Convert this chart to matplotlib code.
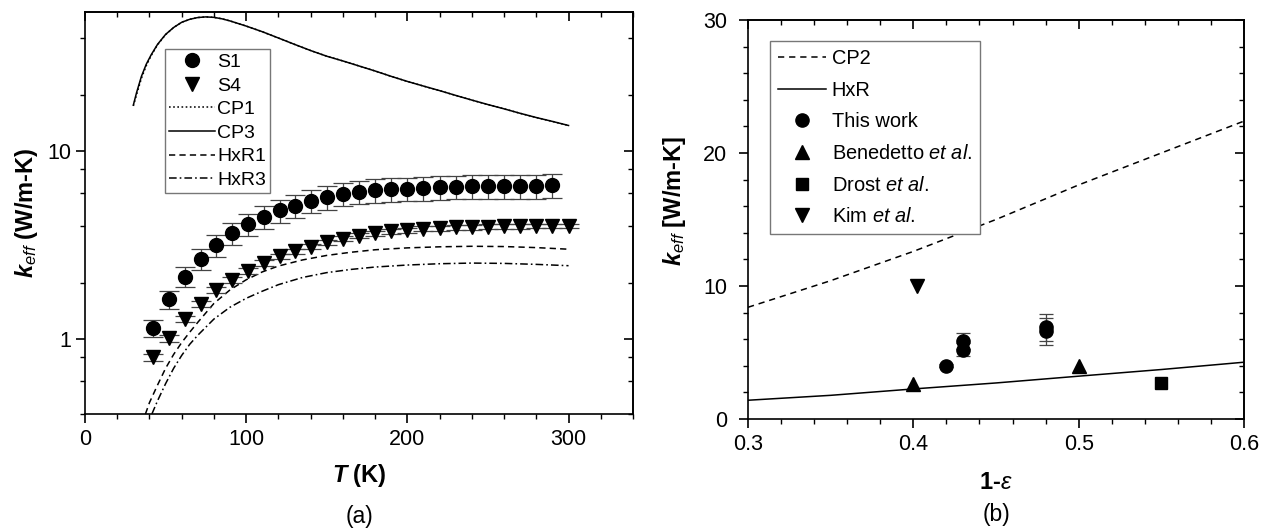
import matplotlib
matplotlib.use('Agg')
import matplotlib.pyplot as plt
from matplotlib.ticker import FixedLocator, MultipleLocator, NullFormatter, FuncFormatter, LogLocator
from matplotlib.lines import Line2D

plt.rcParams['font.family'] = ['Liberation Sans', 'DejaVu Sans']
plt.rcParams['mathtext.fontset'] = 'custom'
plt.rcParams['mathtext.rm'] = 'Liberation Sans'
plt.rcParams['mathtext.it'] = 'Liberation Sans:italic'
plt.rcParams['mathtext.bf'] = 'Liberation Sans:bold'
try:
    plt.rcParams['mathtext.bfit'] = 'Liberation Sans:bold:italic'
except KeyError:
    pass
plt.rcParams['lines.scale_dashes'] = False

# ---------------- Panel (a) data ----------------
S1_T = [42, 52, 62, 72, 81, 91, 101, 111, 121, 130, 140, 150, 160, 170, 180, 190,
        200, 210, 220, 230, 240, 250, 260, 270, 280, 290]
S1_k = [1.15, 1.63, 2.15, 2.68, 3.16, 3.66, 4.09, 4.47, 4.85, 5.12, 5.45, 5.69, 5.92,
        6.07, 6.20, 6.28, 6.33, 6.38, 6.43, 6.48, 6.50, 6.52, 6.52, 6.55, 6.55, 6.57]
S1_err = [0.12, 0.18, 0.26, 0.34, 0.42, 0.50, 0.56, 0.62, 0.68, 0.72, 0.77, 0.80, 0.84,
          0.86, 0.88, 0.90, 0.91, 0.92, 0.93, 0.94, 0.94, 0.95, 0.95, 0.95, 0.95, 0.96]

S4_T = [42, 52, 62, 72, 81, 91, 101, 111, 121, 130, 140, 150, 160, 170, 180, 190,
        200, 210, 220, 230, 240, 250, 260, 270, 280, 290, 300]
S4_k = [0.80, 1.01, 1.28, 1.54, 1.82, 2.06, 2.30, 2.55, 2.76, 2.93, 3.10, 3.28, 3.42,
        3.55, 3.65, 3.74, 3.80, 3.86, 3.90, 3.93, 3.95, 3.97, 3.98, 3.99, 4.00, 4.00, 4.00]
S4_err = [0.03, 0.04, 0.05, 0.06, 0.07, 0.08, 0.08, 0.09, 0.09, 0.10, 0.10, 0.10, 0.11,
          0.11, 0.11, 0.11, 0.12, 0.12, 0.12, 0.12, 0.12, 0.12, 0.12, 0.12, 0.12, 0.12, 0.12]

CP3_T = [30, 32, 35, 38, 41, 45, 50, 55, 60, 65, 70, 75, 80, 85, 90, 100, 110, 120, 130,
         140, 150, 160, 170, 180, 190, 200, 210, 220, 230, 240, 250, 260, 270, 280, 290, 300]
CP3_k = [17.6, 20.5, 25.0, 29.0, 32.5, 37.0, 41.8, 45.5, 48.5, 50.3, 51.4, 51.8, 51.5,
         50.6, 49.3, 46.3, 43.2, 40.0, 37.0, 34.3, 32.0, 30.2, 28.4, 26.7, 25.0, 23.5,
         22.2, 21.0, 19.8, 18.7, 17.7, 16.8, 15.9, 15.1, 14.4, 13.7]
CP1_T = [30, 32, 35, 38, 41, 45, 50, 55, 60, 65, 70, 75, 80, 85, 90, 100, 110, 120, 130,
         140, 150, 160, 170, 180, 190, 200, 210, 220, 230, 240, 250, 260, 270, 280, 290, 300]
CP1_k = [17.4, 20.0, 24.4, 28.5, 32.2, 36.8, 41.7, 45.5, 48.5, 50.3, 51.4, 51.8, 51.5,
         50.6, 49.3, 46.3, 43.2, 40.0, 37.0, 34.3, 32.0, 30.2, 28.4, 26.7, 25.0, 23.5,
         22.2, 21.0, 19.8, 18.7, 17.7, 16.8, 15.9, 15.1, 14.4, 13.7]

HxR1_T = [37.5, 40, 45, 50, 55, 60, 65, 70, 80, 90, 100, 110, 120, 135, 150, 165, 180,
          200, 220, 240, 260, 280, 300]
HxR1_k = [0.40, 0.46, 0.57, 0.70, 0.83, 0.96, 1.09, 1.23, 1.55, 1.83, 2.07, 2.28, 2.45,
          2.64, 2.79, 2.90, 2.99, 3.06, 3.10, 3.12, 3.11, 3.07, 3.01]

HxR3_T = [41.5, 45, 50, 55, 60, 65, 70, 80, 90, 100, 110, 120, 135, 150, 165, 180, 200,
          220, 240, 260, 280, 300]
HxR3_k = [0.40, 0.47, 0.58, 0.70, 0.82, 0.94, 1.05, 1.28, 1.48, 1.65, 1.80, 1.95, 2.13,
          2.26, 2.35, 2.42, 2.48, 2.52, 2.54, 2.53, 2.50, 2.46]

# ---------------- Panel (b) data ----------------
CP2_x = [0.30, 0.325, 0.35, 0.375, 0.40, 0.45, 0.50, 0.55, 0.60]
CP2_k = [8.4, 9.4, 10.4, 11.5, 12.6, 15.0, 17.6, 20.0, 22.4]
HxR_x = [0.30, 0.35, 0.40, 0.45, 0.50, 0.55, 0.60]
HxR_k = [1.41, 1.78, 2.26, 2.71, 3.22, 3.72, 4.27]

this_x = [0.42, 0.43, 0.43, 0.48, 0.48]
this_k = [4.0, 5.2, 5.85, 6.6, 6.9]
this_err = [0.12, 0.5, 0.58, 1.0, 1.0]
bene_x = [0.40, 0.50]
bene_k = [2.6, 4.0]
drost_x = [0.55]
drost_k = [2.7]
kim_x = [0.402]
kim_k = [10.0]

W, H = 1265, 531
fig = plt.figure(figsize=(W / 100, H / 100), dpi=100)

axL = fig.add_axes([85 / W, 1 - 414 / H, 548 / W, 402 / H])
axR = fig.add_axes([748 / W, 1 - 419 / H, 496 / W, 399 / H])

lw = 1.1
ebc = '#444444'
TICK_FS = 15.5
LAB_FS = 17

# ---- panel (a) ----
axL.errorbar(S1_T, S1_k, yerr=S1_err, fmt='o', color='black', ms=10,
             ecolor=ebc, elinewidth=0.9, capsize=7, capthick=0.9, zorder=4)
axL.errorbar(S4_T, S4_k, yerr=S4_err, fmt='v', color='black', ms=10.5,
             ecolor=ebc, elinewidth=0.9, capsize=7, capthick=0.9, zorder=4)
axL.plot(CP1_T, CP1_k, color='black', lw=lw, ls=(0, (1.2, 1.8)))
axL.plot(CP3_T, CP3_k, color='black', lw=lw, ls='-')
axL.plot(HxR1_T, HxR1_k, color='black', lw=lw, ls=(0, (4.5, 3.0)))
axL.plot(HxR3_T, HxR3_k, color='black', lw=lw, ls=(0, (5.5, 2.2, 1.2, 2.2)))

axL.set_xlim(0, 340)
axL.set_yscale('log')
axL.set_ylim(0.4, 55)

axL.xaxis.set_major_locator(MultipleLocator(100))
axL.xaxis.set_minor_locator(MultipleLocator(20))
axL.yaxis.set_major_locator(FixedLocator([1, 10]))
axL.yaxis.set_minor_locator(LogLocator(base=10, subs=[2, 4, 6, 8]))
axL.yaxis.set_major_formatter(FuncFormatter(lambda v, p: '%g' % v))
axL.yaxis.set_minor_formatter(NullFormatter())

leg_handles_L = [
    Line2D([], [], marker='o', ls='none', color='black', ms=10),
    Line2D([], [], marker='v', ls='none', color='black', ms=10.5),
    Line2D([], [], color='black', lw=lw, ls=(0, (1.2, 1.8))),
    Line2D([], [], color='black', lw=lw, ls='-'),
    Line2D([], [], color='black', lw=lw, ls=(0, (4.5, 3.0))),
    Line2D([], [], color='black', lw=lw, ls=(0, (5.5, 2.2, 1.2, 2.2))),
]
leg_labels_L = ['S1', 'S4', 'CP1', 'CP3', 'HxR1', 'HxR3']
legL = axL.legend(leg_handles_L, leg_labels_L, loc='upper left',
                  bbox_to_anchor=(0.146, 0.908), borderaxespad=0, fontsize=14,
                  handlelength=2.35, handletextpad=0.12, labelspacing=0.31,
                  borderpad=0.22, fancybox=False, framealpha=1, edgecolor='#777777')
legL.get_frame().set_linewidth(1.0)

axL.set_xlabel(r'$\mathbfit{T}$ (K)', fontsize=LAB_FS, fontweight='bold')
axL.set_ylabel(r'$\mathbfit{k}_{\mathit{eff}}$ (W/m-K)', fontsize=LAB_FS, fontweight='bold')
axL.xaxis.set_label_coords(0.5, -0.12)
axL.yaxis.set_label_coords(-0.083, 0.5)

# ---- panel (b) ----
axR.plot(CP2_x, CP2_k, color='black', lw=lw, ls=(0, (4.5, 3.5)))
axR.plot(HxR_x, HxR_k, color='black', lw=lw, ls='-')
axR.errorbar(this_x, this_k, yerr=this_err, fmt='o', color='black', ms=9.5,
             ecolor=ebc, elinewidth=0.9, capsize=5, capthick=0.9, zorder=4)
axR.plot(bene_x, bene_k, '^', color='black', ms=10.5, ls='none')
axR.plot(drost_x, drost_k, 's', color='black', ms=8.5, ls='none')
axR.plot(kim_x, kim_k, 'v', color='black', ms=10.5, ls='none')

axR.set_xlim(0.3, 0.6)
axR.set_ylim(0, 30)
axR.xaxis.set_major_locator(MultipleLocator(0.1))
axR.xaxis.set_minor_locator(MultipleLocator(0.02))
axR.yaxis.set_major_locator(MultipleLocator(10))
axR.yaxis.set_minor_locator(MultipleLocator(2))
axR.xaxis.set_major_formatter(FuncFormatter(lambda v, p: '%.1f' % v))
axR.yaxis.set_major_formatter(FuncFormatter(lambda v, p: '%d' % round(v)))

leg_handles_R = [
    Line2D([], [], color='black', lw=lw, ls=(0, (4.5, 3.5))),
    Line2D([], [], color='black', lw=lw, ls='-'),
    Line2D([], [], marker='o', ls='none', color='black', ms=9.5),
    Line2D([], [], marker='^', ls='none', color='black', ms=10.5),
    Line2D([], [], marker='s', ls='none', color='black', ms=8.5),
    Line2D([], [], marker='v', ls='none', color='black', ms=10.5),
]
leg_labels_R = ['CP2', 'HxR', 'This work', r'Benedetto $\mathit{et\ al.}$',
                r'Drost $\mathit{et\ al.}$', r'Kim $\mathit{et\ al.}$']
legR = axR.legend(leg_handles_R, leg_labels_R, loc='upper left',
                  bbox_to_anchor=(0.044, 0.947), borderaxespad=0, fontsize=14.4,
                  handlelength=2.4, handletextpad=0.3, labelspacing=0.63,
                  borderpad=0.4, fancybox=False, framealpha=1, edgecolor='#777777')
legR.get_frame().set_linewidth(1.0)

axR.set_xlabel(r'1-$\mathit{\varepsilon}$', fontsize=LAB_FS, fontweight='bold')
axR.set_ylabel(r'$\mathbfit{k}_{\mathit{eff}}$ [W/m-K]', fontsize=LAB_FS, fontweight='bold')
axR.xaxis.set_label_coords(0.5, -0.13)
axR.yaxis.set_label_coords(-0.12, 0.546)

# ---- axis styling with mirrored inward ticks ----
def style(ax, ypad):
    for s in ax.spines.values():
        s.set_linewidth(1.2)
    ax.tick_params(which='major', direction='out', length=6.5, width=1.2,
                   labelsize=TICK_FS, top=False, right=False)
    ax.tick_params(which='minor', direction='out', length=3.5, width=1.0,
                   top=False, right=False)
    ax.tick_params(axis='x', which='major', pad=4)
    ax.tick_params(axis='y', which='major', pad=ypad)

style(axL, 3.5)
style(axR, 8.5)

def mirror(ax, xmaj, xmin, ymaj, ymin):
    sx = ax.secondary_xaxis('top')
    sx.xaxis.set_major_locator(xmaj)
    sx.xaxis.set_minor_locator(xmin)
    sx.tick_params(which='major', direction='in', length=6.5, width=1.2, labeltop=False)
    sx.tick_params(which='minor', direction='in', length=3.5, width=1.0, labeltop=False)
    sx.spines['top'].set_linewidth(1.2)
    sy = ax.secondary_yaxis('right')
    sy.yaxis.set_major_locator(ymaj)
    sy.yaxis.set_minor_locator(ymin)
    sy.yaxis.set_minor_formatter(NullFormatter())
    sy.tick_params(which='major', direction='in', length=6.5, width=1.2, labelright=False)
    sy.tick_params(which='minor', direction='in', length=3.5, width=1.0, labelright=False)
    sy.spines['right'].set_linewidth(1.2)

mirror(axL, MultipleLocator(100), MultipleLocator(20),
       FixedLocator([1, 10]), LogLocator(base=10, subs=[2, 4, 6, 8]))
mirror(axR, MultipleLocator(0.1), MultipleLocator(0.02),
       MultipleLocator(10), MultipleLocator(2))

fig.text(359 / W, 1 - 517 / H, '(a)', ha='center', va='center', fontsize=16.5)
fig.text(996 / W, 1 - 514 / H, '(b)', ha='center', va='center', fontsize=16.5)

fig.savefig('out.png', dpi=100)
